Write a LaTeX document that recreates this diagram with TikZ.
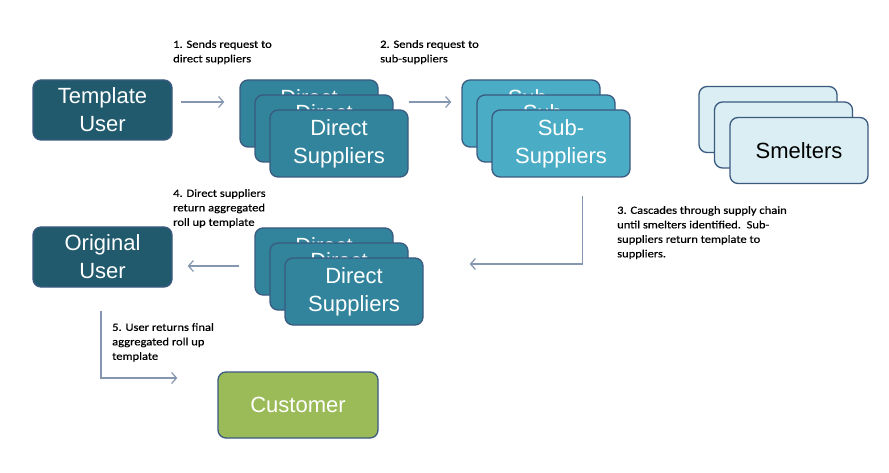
\documentclass[tikz,border=0pt]{standalone}
\usepackage{fontspec}
\setmainfont{Liberation Sans}
\newfontfamily\notefont[FakeStretch=1.14,FakeBold=0.5]{Carlito}
\usepackage{tikz}
\usetikzlibrary{arrows.meta}
\definecolor{darkteal}{HTML}{215A6D}
\definecolor{midteal}{HTML}{31849B}
\definecolor{lightteal}{HTML}{4BACC6}
\definecolor{paleblue}{HTML}{DAEEF3}
\definecolor{olivegreen}{HTML}{9BBB59}
\definecolor{edgeblue}{HTML}{3A5A80}
\definecolor{flowgray}{HTML}{8496B0}
\tikzset{%
  flowbox/.style={
    draw=edgeblue,
    line width=1.3pt,
    rounded corners=8pt,
    text=white,
    minimum width=138pt,
    minimum height=67pt,
    align=center,
    inner sep=0pt,
    font=\fontsize{22}{28}\selectfont
  },
  flow/.style={->, draw=flowgray, line width=1.2pt},
  note/.style={
    anchor=north west,
    inner sep=0pt,
    align=left,
    font=\notefont\fontsize{11}{14.5}\selectfont
  },
}

\begin{document}
\begin{tikzpicture}[> = {Straight Barb[length=5pt,width=11pt]}, x=1pt, y=-1pt]
\useasboundingbox (0,0) rectangle (889,473);
    % top row
    \node[flowbox, fill=darkteal, minimum width=139pt, minimum height=60pt] (tu) at (102.5,110) {Template\\User};
    \foreach \i in {0,1,2}
        \node[flowbox, fill=midteal] (ds\i) at (309+15*\i,113.5+15*\i) {Direct\\Suppliers};
    \foreach \i in {0,1,2}
        \node[flowbox, fill=lightteal] (ss\i) at (531+15*\i,113.5+15*\i) {Sub-\\Suppliers};
    \foreach \i in {0,1,2}
        \node[flowbox, fill=paleblue, text=black, minimum height=66pt] (sm\i) at (768+15.5*\i,119.5+15.5*\i) {Smelters};
    % return row
    \node[flowbox, fill=darkteal, minimum width=139pt, minimum height=60pt] (ou) at (102.5,257) {Original\\User};
    \foreach \i in {0,1,2}
        \node[flowbox, fill=midteal] (dr\i) at (324+15*\i,261.5+15*\i) {Direct\\Suppliers};
    \node[flowbox, fill=olivegreen, minimum width=160pt, minimum height=66pt] (cu) at (298,405) {Customer};
    % arrows
    \draw[flow, shorten <=8pt, shorten >=15pt] ([yshift=8pt]tu.east) -- ([yshift=8pt]tu.east -| ds0.west);
    \draw[flow, shorten <=30pt, shorten >=10pt] ([yshift=11.5pt]ds0.east) -- ([yshift=11.5pt]ds0.east -| ss0.west);
    \draw[flow, shorten <=18pt, shorten >=46pt] ([xshift=21.5pt]ss2.south) |- ([yshift=27.5pt]dr2.east);
    \draw[flow, shorten <=15pt, shorten >=15pt] ([yshift=-4.5pt]dr0.west) -- ([yshift=-4.5pt]dr0.west -| ou.east);
    \draw[flow, shorten <=23pt, shorten >=40pt] ([xshift=-1.5pt]ou.south) |- ([yshift=27pt]cu.west);
    % notes
    \node[note] (n1) at (173,40) {1. Sends request to\\direct suppliers};
    \node[note] (n2) at (380,40) {2. Sends request to\\sub-suppliers};
    \node[note] (n3) at (617,206) {3. Cascades through supply chain\\until smelters identified.\ \ Sub-\\suppliers return template to\\suppliers.};
    \node[note] (n4) at (173,189) {4. Direct suppliers\\return aggregated\\roll up template};
    \node[note] (n5) at (112,323) {5. User returns final\\aggregated roll up\\template};
\end{tikzpicture}
\end{document}
